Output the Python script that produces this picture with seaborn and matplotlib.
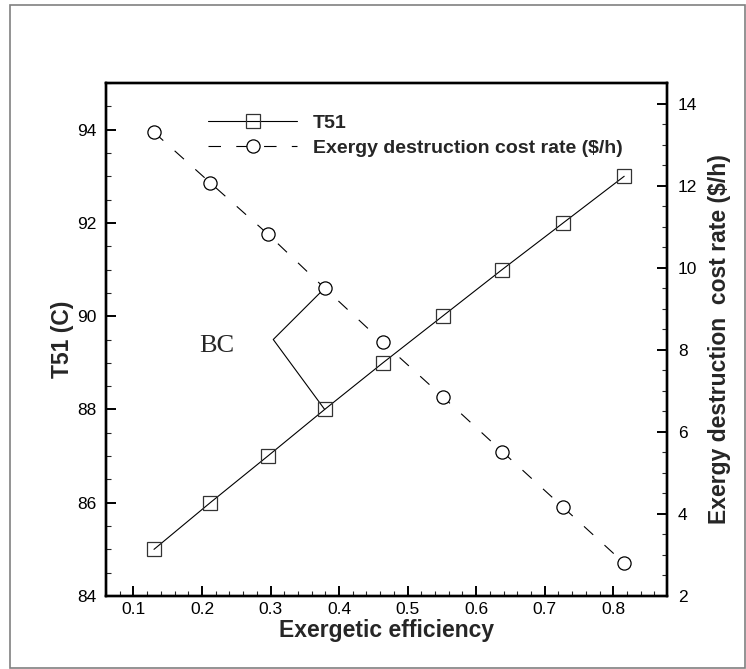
import numpy as np
import pandas as pd
import matplotlib
matplotlib.use("Agg")
import matplotlib.pyplot as plt
import seaborn as sns
from matplotlib.ticker import MultipleLocator
from matplotlib.patches import Rectangle

# data
efficiency = [0.130, 0.212, 0.296, 0.379, 0.464, 0.551, 0.638, 0.727, 0.816]
t51 = [85, 86, 87, 88, 89, 90, 91, 92, 93]
cost_rate = [13.30, 12.07, 10.82, 9.50, 8.18, 6.86, 5.52, 4.16, 2.80]

XLIM = (0.06, 0.878)
YLIM_L = (84, 95)
YLIM_R = (2, 14.5)

sns.set_style("ticks")
plt.rcParams['font.family'] = ['Liberation Sans', 'DejaVu Sans']
plt.rcParams['lines.scale_dashes'] = False

df = pd.DataFrame({'eff': efficiency, 't51': t51, 'cost': cost_rate})

fig = plt.figure(figsize=(7.46, 6.69), dpi=100)
ax = fig.add_axes([106 / 746, 1 - 596 / 669, (666.7 - 106) / 746, (596 - 83) / 669])
ax2 = ax.twinx()

sns.lineplot(data=df, x='eff', y='t51', ax=ax, color='black', lw=0.8,
             marker='s', markersize=10.5, markerfacecolor='none',
             markeredgecolor='#333333', markeredgewidth=0.9, label='T51',
             legend=False)
sns.lineplot(data=df, x='eff', y='cost', ax=ax2, color='black', lw=0.8,
             marker='o', markersize=9.5, markerfacecolor='white',
             markeredgecolor='black', markeredgewidth=0.9,
             label='Exergy destruction cost rate ($/h)', legend=False)
ax2.get_lines()[-1].set_dashes((9, 11))

ax.set_xlim(*XLIM)
ax.set_ylim(*YLIM_L)
ax2.set_ylim(*YLIM_R)

ax.xaxis.set_major_locator(MultipleLocator(0.1))
ax.xaxis.set_minor_locator(MultipleLocator(0.02))
ax.yaxis.set_major_locator(MultipleLocator(2))
ax.yaxis.set_minor_locator(MultipleLocator(0.5))
ax2.yaxis.set_major_locator(MultipleLocator(2))
ax2.yaxis.set_minor_locator(MultipleLocator(0.5))

for a in (ax, ax2):
    a.tick_params(which='major', direction='in', length=7, width=1.4,
                  labelsize=12.5, colors='black')
    a.tick_params(which='minor', direction='in', length=3.6, width=0.8)
    for s in a.spines.values():
        s.set_linewidth(1.7)
        s.set_color('black')
ax.tick_params(axis='x', which='major', pad=4.5)
ax.tick_params(axis='y', which='major', pad=7)
ax2.tick_params(axis='y', which='major', pad=8)
ax.tick_params(top=False, right=False, which='both')

ax.set_xlabel('Exergetic efficiency', fontsize=16.5, fontweight='bold', labelpad=1)
ax.set_ylabel('T51 (C)', fontsize=16.5, fontweight='bold', labelpad=2)
ax2.set_ylabel('Exergy destruction  cost rate ($/h)', fontsize=16.5,
               fontweight='bold', labelpad=8)

# BC callout
def to_left(v):
    return YLIM_L[0] + (v - YLIM_R[0]) / (YLIM_R[1] - YLIM_R[0]) * (YLIM_L[1] - YLIM_L[0])

vx, vy = 0.304, 89.5
ax.plot([efficiency[3], vx, efficiency[3]], [t51[3], vy, to_left(cost_rate[3])],
        color='black', lw=0.8, zorder=1)
ax.text(0.196, 89.35, 'BC', fontsize=19, family=['Liberation Serif'],
        ha='left', va='center')

h1, l1 = ax.get_legend_handles_labels()
h2, l2 = ax2.get_legend_handles_labels()
leg = ax2.legend(h1[:1] + h2, l1[:1] + l2, loc='upper left',
                 bbox_to_anchor=(0.182, 0.939), frameon=False,
                 prop={'weight': 'bold', 'size': 14}, handlelength=4.6,
                 handletextpad=0.8, borderpad=0, borderaxespad=0,
                 labelspacing=0.38, numpoints=1)

fig.patches.append(Rectangle((10 / 746, 1 / 669), 735 / 746, 663 / 669,
                             transform=fig.transFigure, fill=False,
                             edgecolor='#808080', lw=1.2))

fig.savefig('out.png', dpi=100)
